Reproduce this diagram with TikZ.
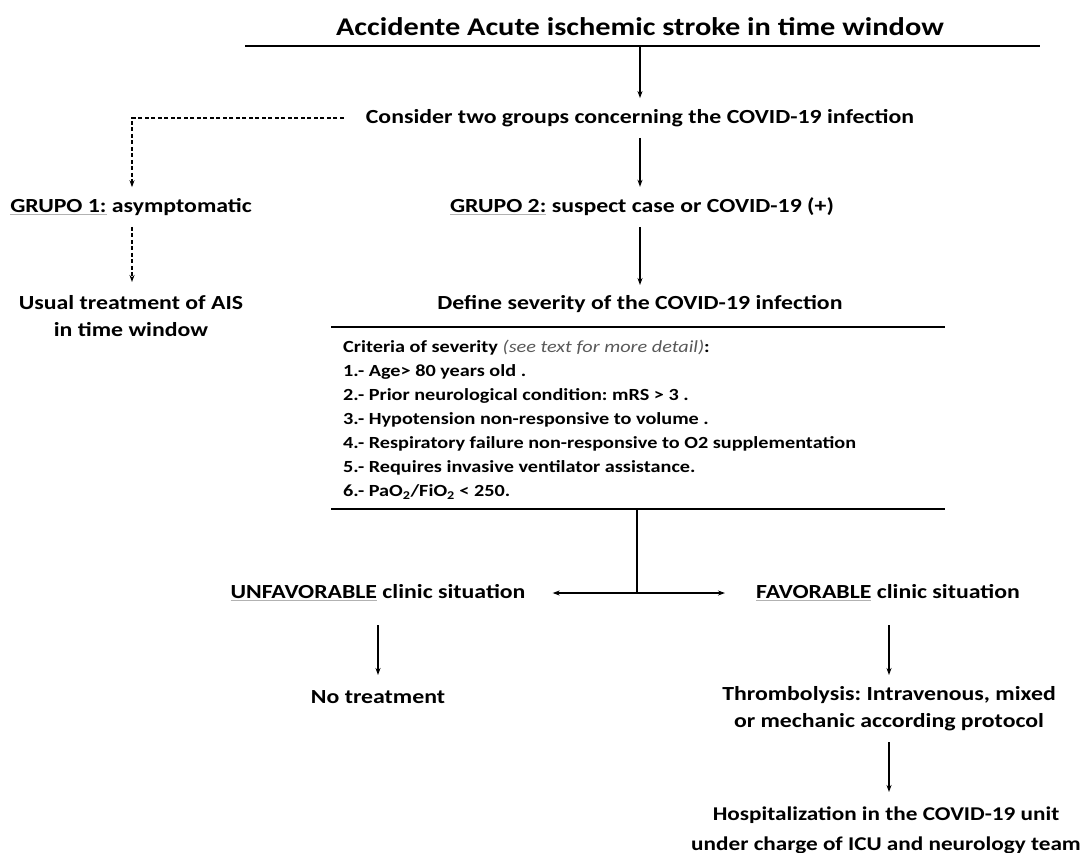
\documentclass[tikz,border=0pt]{standalone}
\usepackage{fontspec}
\setmainfont[FakeStretch=1.19]{Carlito}
\usetikzlibrary{arrows.meta,calc}
\frenchspacing
\newcommand\gul[1]{\textcolor{black!30}{\underline{\textcolor{black}{#1}}}}
\tikzset{
  txt/.style={inner xsep=0pt, inner ysep=11pt, font=\bfseries\fontsize{20}{27}\selectfont, align=center},
  bigtxt/.style={inner sep=0pt, font=\bfseries\fontsize{25.5}{28}\selectfont},
  arr/.style={-{Stealth[length=7pt,width=5pt]}, line width=1.4pt},
  darr/.style={arr, dashed, dash pattern=on 4pt off 2.5pt},
  rulel/.style={line width=2.5pt},
}
\begin{document}
\begin{tikzpicture}[x=1pt,y=-1pt]
\useasboundingbox (0,0) rectangle (1086,853);
% title
\node[bigtxt] (title) at (640,27) {Accidente Acute ischemic stroke in time window};
\coordinate (tl) at (245,46);
\coordinate (tr) at (1040,46);
\draw[rulel] (tl) -- (tr);
\coordinate (tm) at (640,46);
% consider
\node[txt] (consider) at (640,118) {Consider two groups concerning the COVID-19 infection};
\draw[arr] (tm) -- (consider.north);
% groups
\node[txt] (g1) at (131,207) {\gul{GRUPO 1:} asymptomatic};
\node[txt] (g2) at (642,207) {\gul{GRUPO 2:} suspect case or COVID-19 (+)};
\coordinate (dstart) at ($(consider.west)+(-22,0)$);
\coordinate (dcorner) at (132,118);
\draw[darr] (dstart) -- (dcorner) -- (dcorner |- g1.north);
\draw[arr] (consider.south -| 640,0) -- (g2.north -| 640,0);
% usual treatment
\node[txt, inner ysep=0pt] (usual) at (131,316) {Usual treatment of AIS\\in time window};
\draw[darr] (g1.south -| 132,0) -- (132,282) node[coordinate] (uend) {};
% define severity
\node[txt] (define) at (640,304) {Define severity of the COVID-19 infection};
\draw[arr] (g2.south -| 640,0) -- (640,285) node[coordinate] (dend) {};
\coordinate (b1l) at (331,327);
\coordinate (b1r) at (945,327);
\coordinate (b2l) at (331,509);
\coordinate (b2r) at (945,509);
\draw[rulel] (b1l) -- (b1r);
\draw[rulel] (b2l) -- (b2r);
\node[anchor=north west, inner sep=0pt, align=left, font=\bfseries\fontsize{17}{24}\selectfont] (crit) at (343,340)
{Criteria of severity {\mdseries\itshape\color{black!65}(see text for more detail)}:\\
1.- Age> 80 years old .\\
2.- Prior neurological condition: mRS > 3 .\\
3.- Hypotension non-responsive to volume .\\
4.- Respiratory failure non-responsive to O2 supplementation\\
5.- Requires invasive ventilator assistance.\\
6.- PaO\textsubscript{2}/FiO\textsubscript{2} < 250.};
% split
\coordinate (vb) at (637,509);
\coordinate (vj) at (637,593);
\draw[line width=1.6pt] (vb) -- (vj);
\node[txt] (unfav) at (378,593) {\gul{UNFAVORABLE} clinic situation};
\node[txt] (fav) at (888,593) {\gul{FAVORABLE} clinic situation};
\draw[arr, {Stealth[length=7pt,width=5pt]}-{Stealth[length=7pt,width=5pt]}, shorten <=27pt, shorten >=31pt] (unfav.east) -- (fav.west);
% outcomes
\node[txt] (none) at (378,697) {No treatment};
\draw[arr] (378,625) -- (378,675);
\node[txt, inner ysep=0pt] (thromb) at (889,709) {Thrombolysis: Intravenous, mixed\\or mechanic according protocol};
\draw[arr] (889,625) -- (889,675);
\node[txt, inner ysep=0pt, font=\bfseries\fontsize{19.5}{30}\selectfont] (hosp) at (886,830) {Hospitalization in the COVID-19 unit\\under charge of ICU and neurology team};
\draw[arr] (889,742) -- (889,792);
\end{tikzpicture}
\end{document}
